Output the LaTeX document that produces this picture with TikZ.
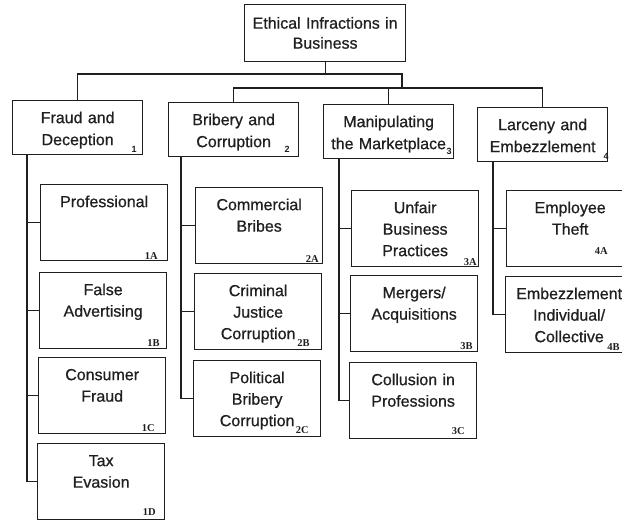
\documentclass[tikz,border=0pt]{standalone}
\usepackage{fontspec}
\setmainfont{Liberation Sans}
\newfontfamily\boxfont{Liberation Sans}[FakeBold=0.7]
\newfontfamily\tagfont{Liberation Serif}
\usepackage{tikz}
\definecolor{ink}{gray}{0.12}

\begin{document}
\begin{tikzpicture}[x=1pt, y=-1pt, line width=1.3pt, color=ink,
  head/.style={draw, inner sep=0pt, text width=161pt, align=center, text height=24pt, text depth=33pt, font=\boxfont\fontsize{16}{20}\selectfont},
  cat/.style={draw, inner sep=0pt, text width=130pt, align=center, text height=22.5pt, text depth=31.5pt, font=\boxfont\fontsize{16}{22}\selectfont},
  sub/.style={draw, inner sep=0pt, text width=127pt, align=center, text height=22.5pt, text depth=53.5pt, font=\boxfont\fontsize{16}{21.5}\selectfont},
  num/.style={inner sep=0pt, anchor=base east, font=\bfseries\fontsize{9}{9}\selectfont},
  tag/.style={inner sep=0pt, anchor=base east, font=\tagfont\bfseries\fontsize{10.5}{10.5}\selectfont}]
\useasboundingbox (0,0) rectangle (622,522);
\clip (0,0) rectangle (622,522);

\node[head, anchor=north west] (root) at (244,4) {Ethical Infractions in\\Business};

\node[cat, anchor=north west] (fraud) at (12,100) {Fraud and\\Deception};
\node[cat, anchor=north west] (brib) at (168,102) {Bribery and\\Corruption};
\node[cat, anchor=north west] (manip) at (323,104) {Manipulating\\the Marketplace};
\node[cat, anchor=north west] (larc) at (477,107) {Larceny and\\Embezzlement};
\node[num] (n1) at ([xshift=-6pt, yshift=3pt]fraud.south east) {1};
\node[num] (n2) at ([xshift=-9pt, yshift=5pt]brib.south east) {2};
\node[num] (n3) at ([xshift=-2pt, yshift=5pt]manip.south east) {3};
\node[num] (n4) at ([xshift=1pt, yshift=3pt]larc.south east) {4};

\coordinate (bus) at (402,74);
\coordinate (bus2) at (402,88);
\draw (root.south) -- (root.south |- bus);
\draw (fraud.north) |- (bus) -- (bus2);
\draw (brib.north) |- (bus2);
\draw (manip.north) -- (manip.north |- bus2);
\draw (larc.north) |- (bus2);

\node[sub, anchor=north west] (prof) at (40,184) {Professional};
\node[sub, anchor=north west] (adv) at (39,272) {False\\Advertising};
\node[sub, anchor=north west] (cons) at (38,357) {Consumer\\Fraud};
\node[sub, anchor=north west] (tax) at (37,443) {Tax\\Evasion};
\node[tag] (t1a) at ([xshift=-10pt, yshift=2pt]prof.south east) {1A};
\node[tag] (t1b) at ([xshift=-7pt, yshift=3pt]adv.south east) {1B};
\node[tag] (t1c) at ([xshift=-11pt, yshift=3pt]cons.south east) {1C};
\node[tag] (t1d) at ([xshift=-9pt, yshift=5pt]tax.south east) {1D};

\node[sub, anchor=north west] (comm) at (195,187) {Commercial\\Bribes};
\node[sub, anchor=north west] (crim) at (194,273) {Criminal\\Justice\\Corruption};
\node[sub, anchor=north west] (pol) at (193,360) {Political\\Bribery\\Corruption};
\node[tag] (t2a) at ([xshift=-4pt, yshift=2pt]comm.south east) {2A};
\node[tag] (t2b) at ([xshift=-12pt, yshift=4pt]crim.south east) {2B};
\node[tag] (t2c) at ([xshift=-12pt, yshift=4pt]pol.south east) {2C};

\node[sub, anchor=north west] (unf) at (351,190) {Unfair\\Business\\Practices};
\node[sub, anchor=north west] (merg) at (350,275) {Mergers/\\Acquisitions};
\node[sub, anchor=north west] (coll) at (349,362) {Collusion in\\Professions};
\node[tag] (t3a) at ([xshift=-2pt, yshift=2pt]unf.south east) {3A};
\node[tag] (t3b) at ([xshift=-5pt, yshift=3pt]merg.south east) {3B};
\node[tag] (t3c) at ([xshift=-12pt, yshift=5pt]coll.south east) {3C};

\node[sub, anchor=north west] (emp) at (506,190) {Employee\\Theft};
\node[sub, anchor=north west] (emb) at (505,276) {Embezzlement\\Individual/\\Collective};
\node[tag] (t4a) at ([xshift=-26pt, yshift=13pt]emp.south east) {4A};
\node[tag] (t4b) at ([xshift=-13pt, yshift=3pt]emb.south east) {4B};

\coordinate (c1) at ([xshift=15pt]fraud.south west);
\draw (c1) |- (prof.west);
\draw (c1) |- (adv.west);
\draw (c1) |- (cons.west);
\draw (c1) |- (tax.west);
\coordinate (c2) at ([xshift=13pt]brib.south west);
\draw (c2) |- (comm.west);
\draw (c2) |- (crim.west);
\draw (c2) |- (pol.west);
\coordinate (c3) at ([xshift=16pt]manip.south west);
\draw (c3) |- (unf.west);
\draw (c3) |- (merg.west);
\draw (c3) |- (coll.west);
\coordinate (c4) at ([xshift=16pt]larc.south west);
\draw (c4) |- (emp.west);
\draw (c4) |- (emb.west);
\end{tikzpicture}
\end{document}
